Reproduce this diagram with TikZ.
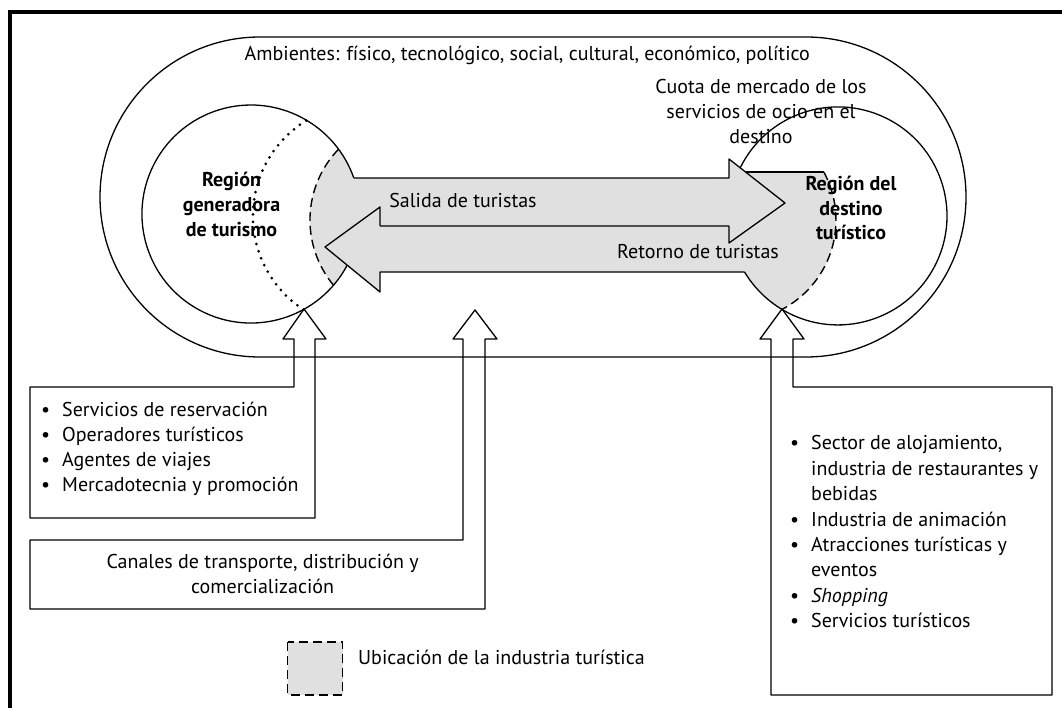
\documentclass[tikz,border=0pt]{standalone}
\usepackage{fontspec}
\setmainfont{PT Sans}
\newcommand\diafs{\fontsize{20}{25}\selectfont}
\tikzset{
  ln/.style={line width=1.3pt, line join=round},
  shd/.style={fill=black!12},
  dsh/.style={line width=1.4pt, dash pattern=on 9pt off 5pt},
  dotline/.style={line width=3pt, line cap=round, dash pattern=on 0pt off 7.5pt},
  txt/.style={inner sep=0pt, font=\diafs, anchor=base},
  btxt/.style={inner sep=0pt, font=\diafs\bfseries, anchor=base},
  ltxt/.style={inner sep=0pt, font=\diafs, anchor=base west},
}
\begin{document}
\begin{tikzpicture}[x=1pt,y=-1pt]
\useasboundingbox (0,0) rectangle (1062,708);
% frame
\draw[line width=4pt] (1064,12.5) -- (9.5,12.5) -- (9.5,710);
% outer environment
\draw[ln] (260,37) -- (806,37) arc[start angle=-90, end angle=90, radius=160]
  -- (260,357) arc[start angle=90, end angle=270, radius=160] -- cycle;
% shaded area
\fill[shd] (338.5,149.1) arc[start angle=-36.6, end angle=-19.3, radius=109]
  -- (729,178) -- (729,159) -- (745.5,172) -- (823.8,172)
  arc[start angle=-28.4, end angle=62.2, radius=101]
  arc[start angle=121, end angle=149, radius=109]
  -- (380,272) -- (380,292) -- (347.2,265.2)
  arc[start angle=28, end angle=40.8, radius=109]
  arc[start angle=140.2, end angle=224, radius=102] -- cycle;
% circles
\draw[ln] (347.2,265.2) arc[start angle=28, end angle=340.7, radius=109];
\draw[ln] (740.2,167.8) arc[start angle=206.2, end angle=509, radius=109];
% arrows
\draw[ln] (353.9,178) -- (729,178) -- (729,159) -- (785,203) -- (729,243) -- (729,226) -- (380,226);
\draw[ln] (744.6,272) -- (380,272) -- (380,292) -- (325,247) -- (380,207) -- (380,226);
\draw[ln] (745.5,172) -- (823.8,172);
% dashed / dotted boundaries
\draw[dsh] (333.6,285.3) arc[start angle=140.2, end angle=224, radius=102];
\draw[dsh] (823.8,172) arc[start angle=-28.4, end angle=62.2, radius=101];
\draw[dotline] (303.4,309.6) arc[start angle=123.3, end angle=238.7, radius=112];
% boxes with hollow arrows
\draw[ln] (294,387) -- (30,387) -- (30,518) -- (315,518) -- (315,339) -- (326,339)
  -- (304,309) -- (283,339) -- (294,339) -- cycle;
\draw[ln] (463,339) -- (463,540) -- (30,540) -- (30,609) -- (485,609) -- (485,339)
  -- (497,339) -- (475,310) -- (453,339) -- cycle;
\draw[ln] (793,339) -- (793,387) -- (1052,387) -- (1052,695) -- (771,695) -- (771,339)
  -- (760,339) -- (782,309) -- (804,339) -- cycle;
% legend
\filldraw[shd, dsh, line width=1.3pt] (287.5,642) rectangle (342.5,695);
% texts
\node[ltxt] (amb) at (244.5,61) {Ambientes: físico, tecnológico, social, cultural, económico, político};
\node[txt] (cu1) at (761,94) {Cuota de mercado de los};
\node[txt] (cu2) at (761,119) {servicios de ocio en el};
\node[txt] (cu3) at (761,144) {destino};
\node[btxt] (g1) at (231.5,187) {Región};
\node[btxt] (g2) at (231.5,212) {generadora};
\node[btxt] (g3) at (231.5,237) {de turismo};
\node[btxt] (d1) at (851,191) {Región del};
\node[btxt] (d2) at (851,216) {destino};
\node[btxt] (d3) at (851,240) {turístico};
\node[txt] (sal) at (463,208) {Salida de turistas};
\node[txt] (ret) at (698,259) {Retorno de turistas};
\node[ltxt] (a1) at (41,416) {\makebox[21pt][l]{\textbullet}Servicios de reservación};
\node[ltxt] (a2) at (41,441) {\makebox[21pt][l]{\textbullet}Operadores turísticos};
\node[ltxt] (a3) at (41,466) {\makebox[21pt][l]{\textbullet}Agentes de viajes};
\node[ltxt] (a4) at (41,491) {\makebox[21pt][l]{\textbullet}Mercadotecnia y promoción};
\node[txt] (c1) at (262.6,568) {Canales de transporte, distribución y};
\node[txt] (c2) at (262.6,593) {comercialización};
\node[ltxt] (b1) at (790,449) {\makebox[21pt][l]{\textbullet}Sector de alojamiento,};
\node[ltxt] (b2) at (811,475) {industria de restaurantes y};
\node[ltxt] (b3) at (811,500) {bebidas};
\node[ltxt] (b4) at (790,526) {\makebox[21pt][l]{\textbullet}Industria de animación};
\node[ltxt] (b5) at (790,551) {\makebox[21pt][l]{\textbullet}Atracciones turísticas y};
\node[ltxt] (b6) at (811,576) {eventos};
\node[ltxt] (b7) at (790,602) {\makebox[21pt][l]{\textbullet}\textit{Shopping}};
\node[ltxt] (b8) at (790,627) {\makebox[21pt][l]{\textbullet}Servicios turísticos};
\node[ltxt] (leg) at (358,664) {Ubicación de la industria turística};
\end{tikzpicture}
\end{document}
